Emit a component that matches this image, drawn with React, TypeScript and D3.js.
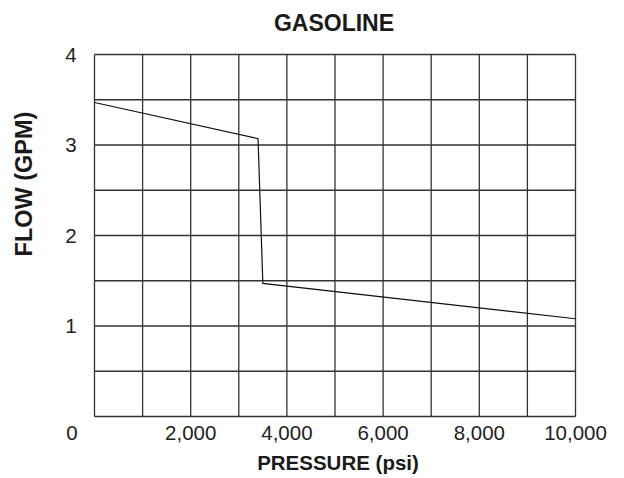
import React from "react";
import * as d3 from "d3";

const pressure = [0, 3400, 3500, 10000];
const flow = [3.47, 3.07, 1.47, 1.08];
const xTickValues = [2000, 4000, 6000, 8000, 10000];
const yTickValues = [1, 2, 3, 4];
const xGridValues = [0, 1000, 2000, 3000, 4000, 5000, 6000, 7000, 8000, 9000, 10000];
const yGridValues = [0, 0.5, 1, 1.5, 2, 2.5, 3, 3.5, 4];
const title = "GASOLINE";
const xLabel = "PRESSURE (psi)";
const yLabel = "FLOW (GPM)";

const W = 624;
const H = 478;
const FONT = "'Liberation Sans', Arial, Helvetica, sans-serif";

export default function App() {
  const x = d3.scaleLinear().domain([0, 10000]).range([94.5, 575.5]);
  const y = d3.scaleLinear().domain([0, 4]).range([416.5, 54.5]);
  const fmt = d3.format(",");
  const pts: [number, number][] = pressure.map((p, i) => [p, flow[i]]);
  const line = d3
    .line<[number, number]>()
    .x((d) => x(d[0]))
    .y((d) => y(d[1]));

  return (
    <svg
      width={W}
      height={H}
      style={{ position: "absolute", left: 0, top: 0, background: "#fff" }}
      fontFamily={FONT}
    >
      <rect x={0} y={0} width={W} height={H} fill="#fff" />
      <g stroke="#333" strokeWidth={1.3} fill="none">
        {xGridValues.map((v) => (
          <line key={"vx" + v} x1={x(v)} x2={x(v)} y1={y(0)} y2={y(4)} />
        ))}
        {yGridValues.map((v) => (
          <line key={"hy" + v} x1={x(0)} x2={x(10000)} y1={y(v)} y2={y(v)} />
        ))}
      </g>
      <path d={line(pts) || ""} fill="none" stroke="#111" strokeWidth={1.2} />
      <g fontSize={20.5} fill="#222">
        {yTickValues.map((v) => (
          <text key={"yt" + v} x={71} y={y(v)} dy="0.35em" textAnchor="middle">
            {v}
          </text>
        ))}
        <text x={72} y={440} textAnchor="middle">0</text>
        {xTickValues.map((v) => (
          <text key={"xt" + v} x={x(v)} y={440} textAnchor="middle">
            {fmt(v)}
          </text>
        ))}
      </g>
      <text x={334} y={31} textAnchor="middle" fontSize={23} fontWeight="bold" fill="#1a1a1a">
        {title}
      </text>
      <text x={338} y={470} textAnchor="middle" fontSize={20.5} fontWeight="bold" fill="#1a1a1a">
        {xLabel}
      </text>
      <text
        transform={`translate(32,${184}) rotate(-90)`}
        textAnchor="middle"
        fontSize={23.5}
        fontWeight="bold"
        fill="#1a1a1a"
      >
        {yLabel}
      </text>
    </svg>
  );
}
